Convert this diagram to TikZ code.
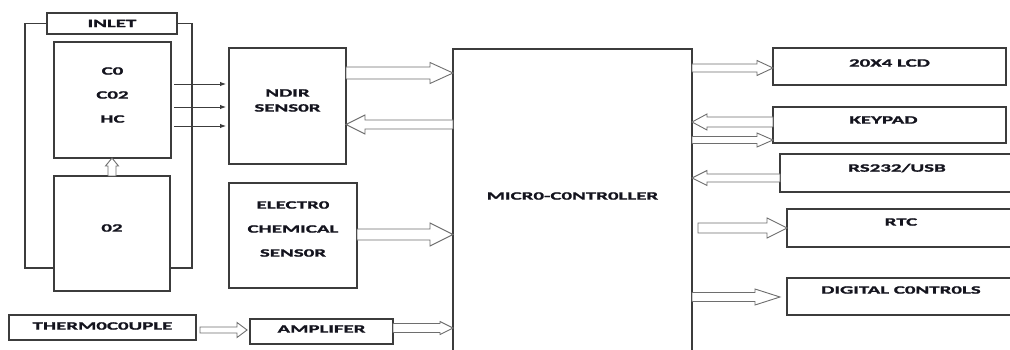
\documentclass[tikz,border=0pt]{standalone}
\usepackage{fontspec}
\usepackage{tikz}
\usetikzlibrary{positioning, arrows.meta, calc}
\newfontfamily\lblfont{Carlito}[FakeStretch=1.85, BoldFeatures={FakeBold=1.4}]
\definecolor{boxline}{HTML}{3C3C3C}
\definecolor{arrline}{HTML}{6E6E6E}
\definecolor{lbltext}{HTML}{14141E}

\tikzset{
  blk/.style={draw=boxline, line width=1.2pt, inner sep=0pt, outer sep=0pt, anchor=north west},
  lbl/.style={text=lbltext, font=\lblfont\bfseries\fontsize{11.3pt}{15pt}\selectfont, align=center, inner sep=0pt},
  widelbl/.style={lbl, font=\lblfont\bfseries\fontsize{11.3pt}{24pt}\selectfont},
  frame/.style={draw=boxline, line width=1.2pt},
  harrow/.style={draw=arrline, line width=0.9pt, fill=white, line join=miter},
  gasarrow/.style={draw=boxline, line width=0.9pt, -{Latex[length=6pt,width=4.5pt]}},
}

% hollow block arrow: start, tip, shaft half width, head half width, head length
\newcommand{\hollowarrow}[5]{%
  \coordinate (ha-s) at (#1);
  \coordinate (ha-t) at (#2);
  \coordinate (ha-b) at ($(ha-t)!#5!(ha-s)$);
  \draw[harrow] ($(ha-s)!#3!90:(ha-t)$) -- ($(ha-b)!#3!90:(ha-t)$)
    -- ($(ha-b)!#4!90:(ha-t)$) -- (ha-t) -- ($(ha-b)!#4!-90:(ha-t)$)
    -- ($(ha-b)!#3!-90:(ha-t)$) -- ($(ha-s)!#3!-90:(ha-t)$) -- cycle;
}

\begin{document}
\begin{tikzpicture}[x=1pt, y=-1pt]
  \useasboundingbox (0,0) rectangle (1010,350);
  \clip (0,0) rectangle (1010,350);

  % sampling chamber
  \node[blk, minimum width=130pt, minimum height=21pt] (inlet) at (47,13) {};
  \node[blk, minimum width=117pt, minimum height=116pt] (gas) at (54,42) {};
  \node[blk, minimum width=116pt, minimum height=115pt] (otwo) at (54,176) {};
  \draw[frame] (inlet.west) -| (25,268) -- (otwo.west |- 0,268);
  \draw[frame] (inlet.east) -| (192,268) -- (otwo.east |- 0,268);
  \node[blk, minimum width=187pt, minimum height=25pt] (thermo) at (9,315) {};

  % sensors
  \node[blk, minimum width=117pt, minimum height=116pt] (ndir) at (229,48) {};
  \node[blk, minimum width=128pt, minimum height=105pt] (electro) at (229,183) {};
  \node[blk, minimum width=143pt, minimum height=25pt] (amp) at (250,319) {};

  % controller and peripherals
  \node[blk, minimum width=239pt, minimum height=330pt] (mc) at (453,49) {};
  \node[blk, minimum width=233pt, minimum height=37pt] (lcd) at (773,48) {};
  \node[blk, minimum width=233pt, minimum height=36pt] (keypad) at (773,107) {};
  \node[blk, minimum width=234pt, minimum height=38pt] (rs) at (780,154) {};
  \node[blk, minimum width=228pt, minimum height=38pt] (rtc) at (787,209) {};
  \node[blk, minimum width=228pt, minimum height=37pt] (digital) at (787,278) {};

  % labels
  \node[lbl] (inlettxt) at (inlet.center) {INLET};
  \node[widelbl] (gastxt) at ([yshift=5pt]gas.center) {C0\\C02\\HC};
  \node[lbl] (otwotxt) at ([yshift=5.5pt]otwo.center) {02};
  \node[lbl] (thermotxt) at ([yshift=1.5pt]thermo.center) {THERM0C0UPLE};
  \node[lbl] (ndirtxt) at ([yshift=5.5pt]ndir.center) {NDIR\\SENS0R};
  \node[widelbl] (electrotxt) at ([yshift=6.5pt]electro.center) {ELECTR0\\CHEMICAL\\SENS0R};
  \node[lbl] (amptxt) at ([yshift=2.5pt]amp.center) {AMPLIFER};
  \node[lbl] (mctxt) at ([yshift=-147pt]mc.north) {MICR0-C0NTR0LLER};
  \node[lbl] (lcdtxt) at ([yshift=3.5pt]lcd.center) {20X4 LCD};
  \node[lbl] (keypadtxt) at ([xshift=-6pt,yshift=5pt]keypad.center) {KEYPAD};
  \node[lbl] (rstxt) at ([yshift=5pt]rs.center) {RS232/USB};
  \node[lbl] (rtctxt) at ([yshift=6pt]rtc.center) {RTC};
  \node[lbl] (digitaltxt) at ([yshift=6.5pt]digital.center) {DIGITAL C0NTR0LS};

  % gas lines into the NDIR bench
  \foreach \yy in {84,107,126}
    \draw[gasarrow] ($(gas.east |- 0,\yy)+(3,0)$) -- ($(ndir.west |- 0,\yy)+(-3,0)$);

  % block arrows
  \hollowarrow{otwo.north}{gas.south -| otwo.north}{4pt}{6.5pt}{8pt}
  \hollowarrow{ndir.east |- 0,73}{mc.west |- 0,73}{6pt}{10.5pt}{23pt}
  \hollowarrow{mc.west |- 0,124.5}{ndir.east |- 0,124.5}{4.5pt}{9.5pt}{19pt}
  \hollowarrow{electro.east |- 0,234.5}{mc.west |- 0,234.5}{5.5pt}{11.5pt}{23pt}
  \hollowarrow{$(thermo.east |- 0,330)+(4,0)$}{$(amp.west |- 0,330)+(-3,0)$}{3pt}{7.5pt}{10pt}
  \hollowarrow{amp.east |- 0,328}{mc.west |- 0,328}{4.5pt}{6.5pt}{13pt}
  \hollowarrow{mc.east |- 0,68}{lcd.west |- 0,68}{4pt}{7.5pt}{16pt}
  \hollowarrow{keypad.west |- 0,122}{mc.east |- 0,122}{5pt}{8pt}{15pt}
  \hollowarrow{mc.east |- 0,140}{keypad.west |- 0,140}{3.5pt}{7pt}{16pt}
  \hollowarrow{rs.west |- 0,178}{mc.east |- 0,178}{4pt}{7.5pt}{15pt}
  \hollowarrow{$(mc.east |- 0,228)+(6,0)$}{rtc.west |- 0,228}{5pt}{10pt}{20pt}
  \hollowarrow{mc.east |- 0,297}{$(digital.west |- 0,297)+(-7,0)$}{4.5pt}{8pt}{25pt}
\end{tikzpicture}
\end{document}
